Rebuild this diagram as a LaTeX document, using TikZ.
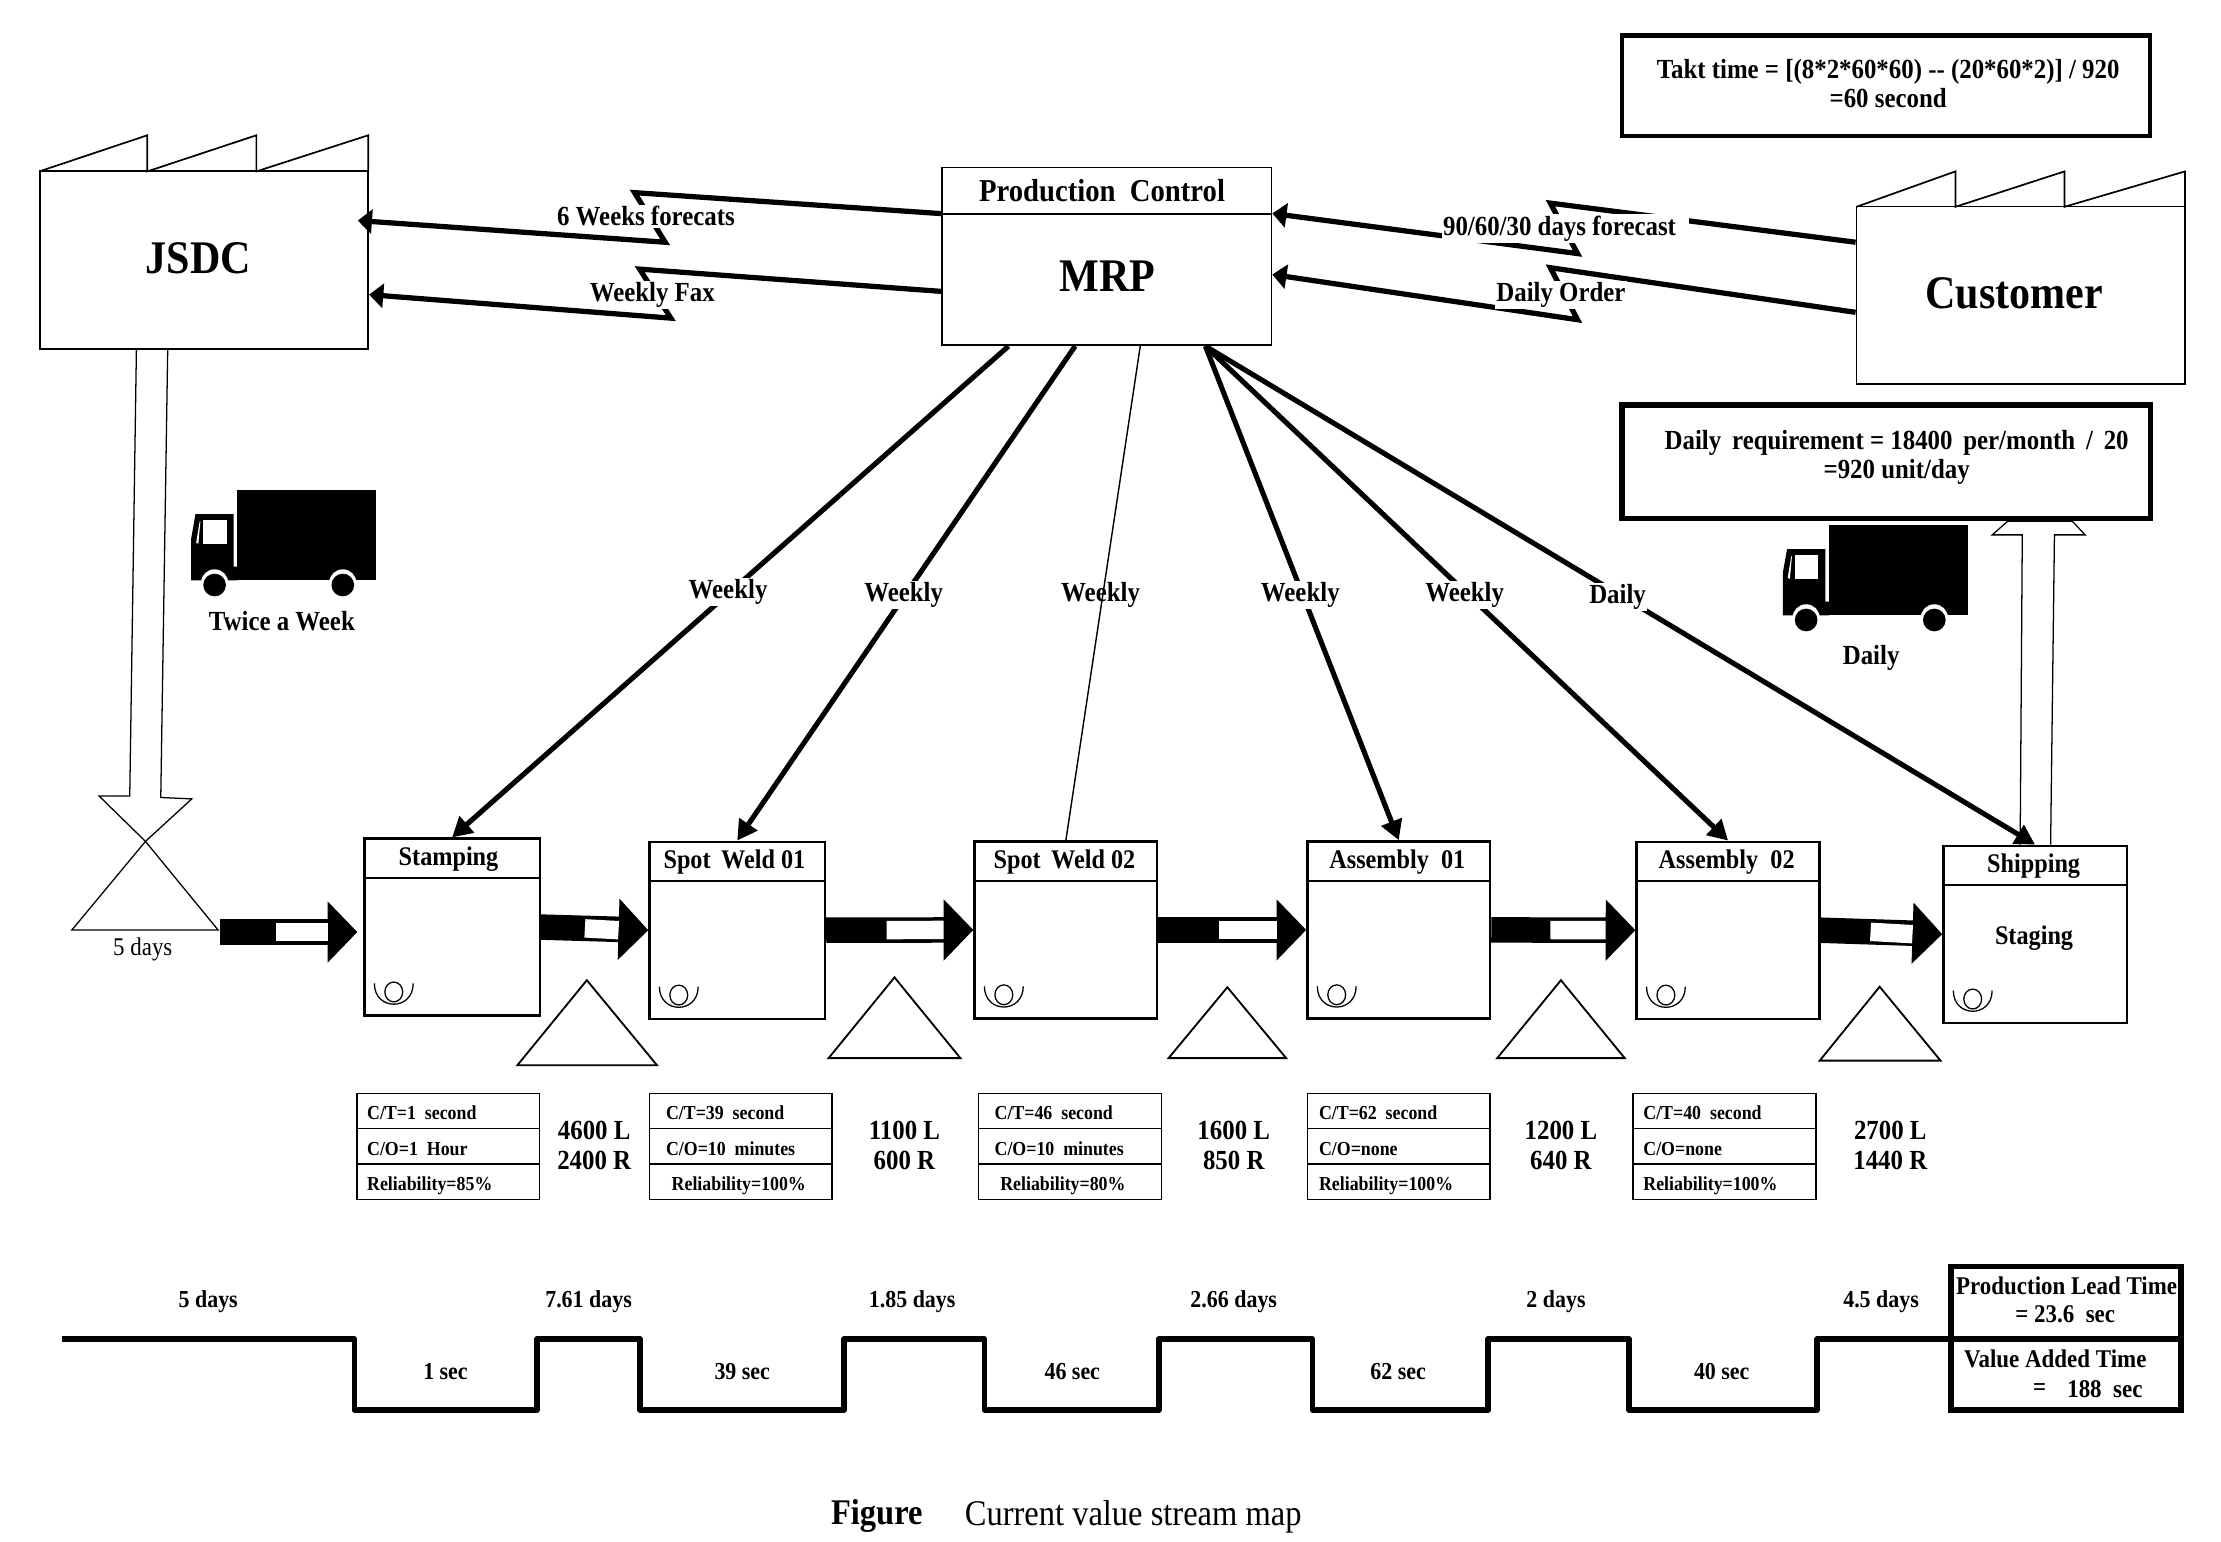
\documentclass[tikz,border=0pt]{standalone}
\usepackage{fontspec}
\setmainfont[FakeStretch=0.9]{Liberation Serif}
\usetikzlibrary{arrows.meta,calc}
\tikzset{
  truck/.pic={
    \fill[black] (32.5,0) rectangle (130.6,63.7);
    \fill[black] (0,63.7) -- (0,34) -- (3,17) -- (30,17) -- (30,54) -- (32.5,54) -- (32.5,63.7) -- cycle;
    \fill[white] (8.5,21) rectangle (25,38);
    \fill[white] (3.5,37) -- (6,22) -- (6.5,22) -- (5,38) -- cycle;
    \foreach \wx in {16.5,107} {
      \fill[white] (\wx,65.5) circle (9.6);
      \fill[black] (\wx,67) circle (8);
    }
  },
  operator/.pic={
    \draw[line width=0.9pt] (0,0) ellipse (6.3 and 7);
    \draw[line width=0.9pt] (-13.7,-6) .. controls (-13.7,13.5) and (13.7,13.5) .. (13.7,-6);
  }
}
\begin{document}
\begin{tikzpicture}[x=1pt,y=-1pt]
    \tikzstyle{box}=[draw=black,line width=1.2pt,inner sep=0pt]
    \tikzstyle{thick box}=[box,line width=3.2pt]
    \tikzstyle{proc}=[box,line width=1.6pt,minimum height=125pt]
    \tikzstyle{big}=[font=\fontsize{33}{36}\selectfont\bfseries,yshift=-1pt]
    \tikzstyle{lab}=[font=\fontsize{19.5}{20.5}\selectfont\bfseries,align=center,inner sep=1pt,yshift=-1.3pt]
    \tikzstyle{cut lab}=[lab,fill=white]
    \tikzstyle{cell}=[font=\fontsize{14}{15}\selectfont\bfseries,anchor=west,inner sep=0pt,text height=10pt,text depth=3pt,yshift=-0.8pt]
    \tikzstyle{level}=[font=\fontsize{18}{20}\selectfont\bfseries,inner sep=0pt]
    \tikzstyle{tag}=[font=\fontsize{17.2}{20}\selectfont\bfseries,inner sep=0pt]
    \tikzstyle{info}=[line width=3.7pt,draw=black,-{Triangle[length=10pt,width=17pt]},miter limit=20]
    \tikzstyle{order}=[line width=3.6pt,draw=black,-{Triangle[length=14pt,width=15pt]}]
    \tikzstyle{push}=[line width=18pt,draw=black,-{Triangle[length=21pt,width=42pt]}]
    \useasboundingbox (0,0) rectangle (1568,1088);

    % Factories and control
    \node[box,minimum width=232pt,minimum height=125.5pt] (JSDC) at (144,183.5) {};
    \node[big] at (140,181) {JSDC};
    \draw[box] (27.8,121) -- (104,95.5) -- (104,121) -- (181,95.5) -- (181,121) -- (260,95.5) -- (260,121);
    \node[box,minimum width=232pt,minimum height=125.5pt] (Customer) at (1426.6,208.5) {};
    \node[big] at (1422,206) {Customer};
    \draw[box] (1310.6,146) -- (1380.5,121) -- (1380.5,146) -- (1457.5,121) -- (1457.5,146) -- (1542.6,121) -- (1542.6,146);
    \node[box,minimum width=232.7pt,minimum height=125.5pt] (MRP) at (781.3,181) {};
    \draw[box] (665,151) -- (897.7,151);
    \node[lab,font=\fontsize{22.5}{24}\selectfont\bfseries] at (778,133.5) {Production~~Control};
    \node[big] at (782,194) {MRP};

    % Takt and daily boxes
    \node[thick box,minimum width=373pt,minimum height=71pt] (Takt) at (1331.5,60.5) {};
    \node[lab] at (1333,58) {Takt time = [(8*2*60*60) -{}- (20*60*2)] / 920\\=60 second};
    \node[thick box,line width=3.8pt,minimum width=373pt,minimum height=80pt] (Daily) at (1331.5,326) {};
    \node[lab] at (1339,321.5) {Daily\,~requirement = 18400\,~per/month\,~/\,~20\\=920 unit/day};

    % Electronic information flows
    \coordinate (A-1) at (1094.5,143.4);
    \coordinate (B-1) at (1113.7,179);
    \coordinate (A-2) at (1094.5,189);
    \coordinate (B-2) at (1113.7,225.7);
    \coordinate (A-3) at (448,136);
    \coordinate (B-3) at (469.6,171);
    \coordinate (A-4) at (451.6,190);
    \coordinate (B-4) at (473.6,224.6);
    \draw[info] ([yshift=37.5pt]Customer.west) -- (A-1) -- (B-1) -- ([yshift=30.3pt]MRP.east);
    \draw[info] ([yshift=-12pt]Customer.west) -- (A-2) -- (B-2) -- ([yshift=-12.8pt]MRP.east);
    \draw[info] ([yshift=30.2pt]MRP.west) -- (A-3) -- (B-3) -- ([xshift=-8pt,yshift=27.8pt]JSDC.east);
    \draw[info] ([yshift=-24.7pt]MRP.west) -- (A-4) -- (B-4) -- ([yshift=-24.5pt]JSDC.east);
    \node[cut lab] at (1105,160) {90/60/30 days forecast\hspace*{8pt}};
    \node[cut lab] at (1102,207) {Daily Order};
    \node[cut lab] at (456,151.5) {6 Weeks forecats};
    \node[cut lab] at (460.5,207) {Weekly Fax};

    % Process boxes
    \foreach \name/\x/\y/\w/\title/\ox in {P-1/319.15/654.5/123.7/Stamping/-2.5,
        P-2/520.5/656.7/124/Spot\,~Weld~01/-2,
        P-3/752.5/656.5/129/Spot\,~Weld~02/-1,
        P-4/987.5/656.5/129/Assembly~~01/-1,
        P-5/1220/656.7/129.2/Assembly~~02/-1,
        P-6/1436.7/659.5/129.4/Shipping/-1} {
      \node[proc,minimum width=\w pt] (\name) at (\x,\y) {};
      \draw[proc,minimum height=0pt] (\x-\w/2,\y-34.5) -- (\x+\w/2,\y-34.5);
      \node[lab,font=\fontsize{19}{20}\selectfont\bfseries] at (\x+\ox,\y-49.5) {\title};
      \pic at (\x-\w/2+20.7,\y+45.8) {operator};
    }
    \node[lab,font=\fontsize{19}{20}\selectfont\bfseries] at (1436,661) {Staging};

    % Schedule lines from MRP
    \draw[order] ([xshift=-69.3pt]MRP.south) -- (P-1.north);
    \draw[order] ([xshift=-22.3pt]MRP.south) -- (P-2.north);
    \draw[line width=1pt] ([xshift=23.7pt]MRP.south) -- (P-3.north);
    \draw[order] ([xshift=69.7pt]MRP.south) -- (P-4.north);
    \draw[order] ([xshift=69.7pt]MRP.south) -- (P-5.north);
    \draw[order] ([xshift=69.7pt]MRP.south) -- (P-6.north);
    \node[cut lab] at (514,416.5) {Weekly};
    \node[cut lab] at (638,419) {Weekly};
    \node[lab] at (777,418.5) {Weekly};
    \node[cut lab] at (918,419) {Weekly};
    \node[cut lab] at (1034,419) {Weekly};
    \node[cut lab] at (1142,420) {Daily};

    % Shipments
    \draw[line width=0.9pt,fill=white] (102.7,594) -- (50.7,656.6) -- (154,656.6) -- cycle;
    \draw[line width=0.9pt] ([xshift=-47.7pt]JSDC.south) -- (91.6,562) -- (70,562) -- (102.7,594) -- (135.4,564) -- (113.5,563) -- ([xshift=-25.6pt]JSDC.south);
    \node[font=\fontsize{18}{20}\selectfont] at (100.8,670) {5 days};
    \pic at (135,346) {truck};
    \node[lab] at (199,437.5) {Twice a Week};
    \draw[line width=0.9pt] ([xshift=-10.5pt]P-6.north) -- (1427.7,377.6) -- (1406.5,377.6) -- ([xshift=86pt]Daily.south) -- ([xshift=131.5pt]Daily.south) -- (1472,377.6) -- (1450.4,377.6) -- ([xshift=11pt]P-6.north);
    \pic at (1258.6,370.7) {truck};
    \node[lab] at (1321,463) {Daily};

    % Push arrows between the processes
    \coordinate (S-0) at (155.3,658);
    \coordinate (E-0) at (252.3,658);
    \foreach \a/\b in {S-0/E-0,P-1.east/P-2.west,P-2.east/P-3.west,P-3.east/P-4.west,P-4.east/P-5.west,P-5.east/P-6.west} {
      \draw[push] (\a) -- (\b);
      \draw[line width=13pt,white] ($(\a)!0.41!(\b)$) -- ($(\b)+(-21,0)$);
    }

    % Inventory triangles
    \foreach \l/\t/\r/\ya/\yb in {365.3/414.3/463.8/692/752,
        585/631.5/678/690/747,
        825/866.5/908/697/747,
        1057/1102/1147/692/747,
        1284.7/1327/1370/696.6/748.8} {
      \draw[line width=1.3pt] (\l,\yb) -- (\r,\yb) -- (\t,\ya) -- cycle;
    }

    % Data boxes
    \foreach \x/\w/\ic/\ir/\ct/\co/\rel in {252/129/7/7/1~~second/1~~Hour/85,
        458.5/129/11.5/15.5/39~~second/10~~minutes/100,
        691/129/11/15/46~~second/10~~minutes/80,
        923/129/8/8/62~~second/none/100,
        1153/129/7/7/40~~second/none/100} {
      \node[box,line width=1pt,minimum width=\w pt,minimum height=74.7pt] (D-\x) at (\x+\w/2,809.3) {};
      \draw[line width=1pt] (\x,796.8) -- (\x+\w,796.8) (\x,821.8) -- (\x+\w,821.8);
      \node[cell] at (\x+\ic,786) {C/T=\ct};
      \node[cell] at (\x+\ic,811.5) {C/O=\co};
      \node[cell] at (\x+\ir,836) {Reliability=\rel\%};
    }
    \foreach \x/\lft/\rgt in {419.5/4600 L/2400 R,638.5/1100 L/600 R,871/1600 L/850 R,1102/1200 L/640 R,1334.5/2700 L/1440 R} {
      \node[lab,font=\fontsize{19.5}{21}\selectfont\bfseries] at (\x,807.3) {\lft\\\rgt};
    }

    % Timeline
    \node[box,line width=4pt,minimum width=162.5pt,minimum height=101.4pt] (Lead) at (1458.4,944.7) {};
    \draw[line width=4pt,line join=round] (43.6,945.3) -- (250.2,945.3) -- (250.2,995.4) -- (379,995.4) -- (379,945.3) -- (451.8,945.3) -- (451.8,995.4) -- (596,995.4) -- (596,945.3) -- (695,945.3) -- (695,995.4) -- (818,995.4) -- (818,945.3) -- (926.5,945.3) -- (926.5,995.4) -- (1050.6,995.4) -- (1050.6,945.3) -- (1150,945.3) -- (1150,995.4) -- (1282.8,995.4) -- (1282.8,945.3) -- ([yshift=-0.6pt]Lead.west) -- ([yshift=-0.6pt]Lead.east);
    \foreach \x/\txt in {147/5 days,415.5/7.61 days,644/1.85 days,871/2.66 days,1098.5/2 days,1328/4.5 days} {
      \node[tag] at (\x,919.3) {\txt};
    }
    \foreach \x/\txt in {314.5/1 sec,524/39 sec,757/46 sec,987/62 sec,1215.5/40 sec} {
      \node[tag] at (\x,968) {\txt};
    }
    \node[level] at (1459,908) {Production Lead Time};
    \node[level] at (1458,927.6) {= 23.6~~sec};
    \node[level] at (1451,959.5) {Value Added Time};
    \node[level] at (1440,981) {=};
    \node[level] at (1486,981) {188~~sec};

    % Caption
    \node[font=\fontsize{25.5}{27}\selectfont\bfseries,inner sep=0pt] at (619,1070.5) {Figure};
    \node[font=\fontsize{25.5}{27}\selectfont,inner sep=0pt] at (800,1070.5) {Current value stream map};
\end{tikzpicture}
\end{document}
